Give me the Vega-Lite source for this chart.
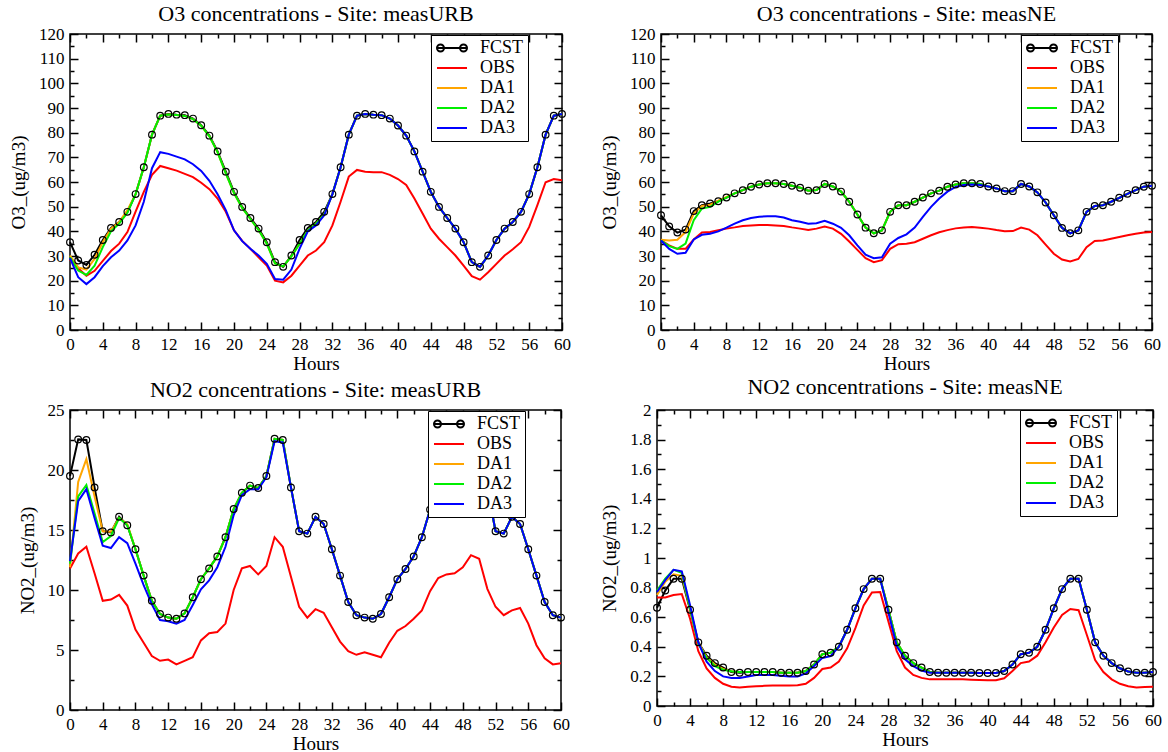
{
  "$schema": "https://vega.github.io/schema/vega-lite/v6.json",
  "background": "white",
  "padding": {"left": 8, "top": 2, "right": 0, "bottom": 0},
  "config": {
    "font": "Liberation Serif",
    "view": {"stroke": "black", "strokeWidth": 1.5},
    "style": {"guide-label": {"font": "Liberation Serif", "fontSize": 17, "fill": "black"}, "guide-title": {"font": "Liberation Serif", "fontSize": 19, "fontWeight": "normal", "fill": "black"}},
    "axis": {"domain": false, "grid": false, "labelFont": "Liberation Serif", "labelFontSize": 17, "labelColor": "black", "tickColor": "black", "tickWidth": 1.5, "titleFont": "Liberation Serif", "titleFontSize": 19, "titleFontWeight": "normal", "titleColor": "black", "labelPadding": 14, "labelOverlap": false, "labelFlush": false},
    "title": {"font": "Liberation Serif", "fontSize": 22, "fontWeight": "normal", "color": "black", "anchor": "middle", "offset": -1},
    "legend": {"title": null, "strokeColor": "black", "fillColor": "white", "padding": 4, "rowPadding": 2, "labelFont": "Liberation Serif", "labelFontSize": 18, "labelColor": "black", "symbolSize": 196, "symbolStrokeWidth": 2, "labelOffset": 27, "cornerRadius": 0, "orient": "none"}
  },
  "datasets": {
    "o3urb": [
      {"h":0,"FCST":35.6,"OBS":28.5,"DA1":30.2,"DA2":29.5,"DA3":29.1},
      {"h":1,"FCST":28.2,"OBS":25,"DA1":25.4,"DA2":24.1,"DA3":21.4},
      {"h":2,"FCST":26.4,"OBS":22,"DA1":24.5,"DA2":22.3,"DA3":18.6},
      {"h":3,"FCST":30.5,"OBS":24,"DA1":28.8,"DA2":26.1,"DA3":21.4},
      {"h":4,"FCST":36.5,"OBS":28,"DA1":35.6,"DA2":33.6,"DA3":25.9},
      {"h":5,"FCST":41.4,"OBS":32,"DA1":41.1,"DA2":40,"DA3":29.5},
      {"h":6,"FCST":43.8,"OBS":35,"DA1":43.8,"DA2":43.1,"DA3":32.2},
      {"h":7,"FCST":47.9,"OBS":39.7,"DA1":48.6,"DA2":47.5,"DA3":36.3},
      {"h":8,"FCST":55.1,"OBS":48,"DA1":55.1,"DA2":55.1,"DA3":42.4},
      {"h":9,"FCST":66,"OBS":56,"DA1":66,"DA2":66,"DA3":52},
      {"h":10,"FCST":79.2,"OBS":62.9,"DA1":79.2,"DA2":79.2,"DA3":65.6},
      {"h":11,"FCST":86.9,"OBS":66.5,"DA1":86.9,"DA2":86.9,"DA3":72.1},
      {"h":12,"FCST":87.6,"OBS":65.6,"DA1":87.4,"DA2":87.4,"DA3":71.4},
      {"h":13,"FCST":87.3,"OBS":64.6,"DA1":87.2,"DA2":87.2,"DA3":70.3},
      {"h":14,"FCST":87.1,"OBS":63.3,"DA1":86.8,"DA2":86.8,"DA3":69.2},
      {"h":15,"FCST":85.7,"OBS":62,"DA1":85.5,"DA2":85.5,"DA3":67.2},
      {"h":16,"FCST":83,"OBS":59.7,"DA1":82.8,"DA2":82.8,"DA3":64.5},
      {"h":17,"FCST":78.8,"OBS":57.1,"DA1":78.5,"DA2":78.5,"DA3":60.5},
      {"h":18,"FCST":72.4,"OBS":53.3,"DA1":72,"DA2":72,"DA3":55},
      {"h":19,"FCST":64.2,"OBS":47.9,"DA1":63.5,"DA2":63.5,"DA3":48.6},
      {"h":20,"FCST":56,"OBS":40.4,"DA1":55.5,"DA2":55.5,"DA3":40.4},
      {"h":21,"FCST":49.9,"OBS":36.1,"DA1":49.5,"DA2":49.5,"DA3":36},
      {"h":22,"FCST":45.4,"OBS":32.9,"DA1":45,"DA2":45,"DA3":32.9},
      {"h":23,"FCST":41.1,"OBS":29.5,"DA1":40.5,"DA2":40.5,"DA3":30.2},
      {"h":24,"FCST":35.6,"OBS":26.1,"DA1":35,"DA2":35,"DA3":26.8},
      {"h":25,"FCST":27.5,"OBS":20,"DA1":27,"DA2":27,"DA3":20.7},
      {"h":26,"FCST":25.6,"OBS":19.3,"DA1":25.8,"DA2":25.8,"DA3":20.4},
      {"h":27,"FCST":30.2,"OBS":22,"DA1":29.8,"DA2":29.8,"DA3":24.5},
      {"h":28,"FCST":36.5,"OBS":26.1,"DA1":35,"DA2":35,"DA3":33},
      {"h":29,"FCST":41.4,"OBS":30.2,"DA1":40.4,"DA2":40.4,"DA3":40},
      {"h":30,"FCST":43.8,"OBS":32.2,"DA1":43.1,"DA2":43.1,"DA3":42.4},
      {"h":31,"FCST":47.9,"OBS":35.6,"DA1":46.8,"DA2":46.8,"DA3":46.5},
      {"h":32,"FCST":55.1,"OBS":42.4,"DA1":55.1,"DA2":55.1,"DA3":55.1},
      {"h":33,"FCST":66,"OBS":52,"DA1":66,"DA2":66,"DA3":66},
      {"h":34,"FCST":79.2,"OBS":62.2,"DA1":79.2,"DA2":79.2,"DA3":79.2},
      {"h":35,"FCST":86.9,"OBS":64.9,"DA1":86.9,"DA2":86.9,"DA3":86.9},
      {"h":36,"FCST":87.6,"OBS":64.2,"DA1":87.6,"DA2":87.6,"DA3":87.6},
      {"h":37,"FCST":87.3,"OBS":64,"DA1":87.3,"DA2":87.3,"DA3":87.3},
      {"h":38,"FCST":87.1,"OBS":64,"DA1":87.1,"DA2":87.1,"DA3":87.1},
      {"h":39,"FCST":85.7,"OBS":62.9,"DA1":85.7,"DA2":85.7,"DA3":85.7},
      {"h":40,"FCST":82.9,"OBS":61.2,"DA1":82.9,"DA2":82.9,"DA3":82.9},
      {"h":41,"FCST":78.8,"OBS":58.8,"DA1":78.8,"DA2":78.8,"DA3":78.8},
      {"h":42,"FCST":72.4,"OBS":53.3,"DA1":72.4,"DA2":72.4,"DA3":72.4},
      {"h":43,"FCST":64.2,"OBS":47.2,"DA1":64.2,"DA2":64.2,"DA3":64.2},
      {"h":44,"FCST":56,"OBS":41.1,"DA1":56,"DA2":56,"DA3":56},
      {"h":45,"FCST":49.9,"OBS":37,"DA1":49.9,"DA2":49.9,"DA3":49.9},
      {"h":46,"FCST":45.4,"OBS":33.6,"DA1":45.4,"DA2":45.4,"DA3":45.4},
      {"h":47,"FCST":41.1,"OBS":30.2,"DA1":41.1,"DA2":41.1,"DA3":41.1},
      {"h":48,"FCST":35.6,"OBS":26.1,"DA1":35.6,"DA2":35.6,"DA3":35.6},
      {"h":49,"FCST":27.5,"OBS":21.8,"DA1":27.5,"DA2":27.5,"DA3":27.5},
      {"h":50,"FCST":25.6,"OBS":20.4,"DA1":25.6,"DA2":25.6,"DA3":25.6},
      {"h":51,"FCST":30.2,"OBS":23.4,"DA1":30.2,"DA2":30.2,"DA3":30.2},
      {"h":52,"FCST":36.5,"OBS":26.8,"DA1":36.5,"DA2":36.5,"DA3":36.5},
      {"h":53,"FCST":41.1,"OBS":30.2,"DA1":41.1,"DA2":41.1,"DA3":41.1},
      {"h":54,"FCST":43.8,"OBS":32.7,"DA1":43.8,"DA2":43.8,"DA3":43.8},
      {"h":55,"FCST":47.9,"OBS":35.6,"DA1":47.9,"DA2":47.9,"DA3":47.9},
      {"h":56,"FCST":55.1,"OBS":41.8,"DA1":55.1,"DA2":55.1,"DA3":55.1},
      {"h":57,"FCST":66,"OBS":50.6,"DA1":66,"DA2":66,"DA3":66},
      {"h":58,"FCST":79.2,"OBS":59.9,"DA1":79.2,"DA2":79.2,"DA3":79.2},
      {"h":59,"FCST":86.9,"OBS":61.2,"DA1":86.9,"DA2":86.9,"DA3":86.9},
      {"h":60,"FCST":87.6,"OBS":60.7,"DA1":87.6,"DA2":87.6,"DA3":87.6}
    ],
    "o3ne": [
      {"h":0,"FCST":46.5,"OBS":36.3,"DA1":36.6,"DA2":36.3,"DA3":36.3},
      {"h":1,"FCST":42,"OBS":34.3,"DA1":36.3,"DA2":34,"DA3":32.9},
      {"h":2,"FCST":39.5,"OBS":32.9,"DA1":36.6,"DA2":32.9,"DA3":30.9},
      {"h":3,"FCST":40.7,"OBS":32.9,"DA1":39.7,"DA2":35,"DA3":31.3},
      {"h":4,"FCST":48.2,"OBS":36.7,"DA1":47.2,"DA2":44.5,"DA3":36.7},
      {"h":5,"FCST":50.6,"OBS":39.5,"DA1":50.3,"DA2":49.3,"DA3":38.6},
      {"h":6,"FCST":51.3,"OBS":39.7,"DA1":50.8,"DA2":49.9,"DA3":39},
      {"h":7,"FCST":52.2,"OBS":40.4,"DA1":52.4,"DA2":52,"DA3":40},
      {"h":8,"FCST":53.7,"OBS":41.1,"DA1":54,"DA2":53.7,"DA3":41.5},
      {"h":9,"FCST":55.4,"OBS":41.6,"DA1":55.4,"DA2":55.4,"DA3":43.1},
      {"h":10,"FCST":56.7,"OBS":42.2,"DA1":56.7,"DA2":56.7,"DA3":44.5},
      {"h":11,"FCST":58.1,"OBS":42.4,"DA1":58.1,"DA2":58.1,"DA3":45.4},
      {"h":12,"FCST":59,"OBS":42.6,"DA1":59,"DA2":59,"DA3":45.9},
      {"h":13,"FCST":59.5,"OBS":42.6,"DA1":59.5,"DA2":59.5,"DA3":46.1},
      {"h":14,"FCST":59.5,"OBS":42.4,"DA1":59.5,"DA2":59.5,"DA3":46.1},
      {"h":15,"FCST":59.2,"OBS":42.2,"DA1":59.2,"DA2":59.2,"DA3":45.6},
      {"h":16,"FCST":58.5,"OBS":41.6,"DA1":58.5,"DA2":58.5,"DA3":44.5},
      {"h":17,"FCST":57.7,"OBS":41.1,"DA1":57.7,"DA2":57.7,"DA3":43.9},
      {"h":18,"FCST":56.5,"OBS":40.5,"DA1":56.5,"DA2":56.5,"DA3":43.1},
      {"h":19,"FCST":56.7,"OBS":41.1,"DA1":56.7,"DA2":56.7,"DA3":43.3},
      {"h":20,"FCST":59.2,"OBS":41.9,"DA1":59.2,"DA2":59.2,"DA3":44.3},
      {"h":21,"FCST":58.2,"OBS":41.1,"DA1":58.2,"DA2":58.2,"DA3":43.1},
      {"h":22,"FCST":56.1,"OBS":39,"DA1":56.1,"DA2":56.1,"DA3":41.4},
      {"h":23,"FCST":52,"OBS":35.9,"DA1":52,"DA2":52,"DA3":38.4},
      {"h":24,"FCST":46.8,"OBS":32.5,"DA1":46.8,"DA2":46.8,"DA3":34.3},
      {"h":25,"FCST":41.5,"OBS":29.1,"DA1":41.5,"DA2":41.5,"DA3":30.5},
      {"h":26,"FCST":39.2,"OBS":27.5,"DA1":39.2,"DA2":39.2,"DA3":29.1},
      {"h":27,"FCST":40.4,"OBS":28.3,"DA1":40.4,"DA2":40.4,"DA3":29.5},
      {"h":28,"FCST":47.9,"OBS":32.9,"DA1":47.9,"DA2":47.9,"DA3":35},
      {"h":29,"FCST":50.6,"OBS":34.8,"DA1":50.6,"DA2":50.6,"DA3":37.3},
      {"h":30,"FCST":50.6,"OBS":35,"DA1":50.6,"DA2":50.6,"DA3":38.8},
      {"h":31,"FCST":52,"OBS":35.6,"DA1":52,"DA2":52,"DA3":41.5},
      {"h":32,"FCST":53.7,"OBS":37,"DA1":53.7,"DA2":53.7,"DA3":45.9},
      {"h":33,"FCST":55.4,"OBS":38.4,"DA1":55.4,"DA2":55.4,"DA3":49.9},
      {"h":34,"FCST":56.5,"OBS":39.6,"DA1":56.5,"DA2":56.5,"DA3":53.3},
      {"h":35,"FCST":58.1,"OBS":40.5,"DA1":58.1,"DA2":58.1,"DA3":56.1},
      {"h":36,"FCST":59,"OBS":41.2,"DA1":59,"DA2":59,"DA3":58},
      {"h":37,"FCST":59.5,"OBS":41.6,"DA1":59.5,"DA2":59.5,"DA3":58.8},
      {"h":38,"FCST":59.5,"OBS":41.8,"DA1":59.5,"DA2":59.5,"DA3":59},
      {"h":39,"FCST":59.2,"OBS":41.5,"DA1":59.2,"DA2":59.2,"DA3":58.8},
      {"h":40,"FCST":58.2,"OBS":41.1,"DA1":58.2,"DA2":58.2,"DA3":58.2},
      {"h":41,"FCST":57.4,"OBS":40.5,"DA1":57.4,"DA2":57.4,"DA3":57.4},
      {"h":42,"FCST":56.3,"OBS":40,"DA1":56.3,"DA2":56.3,"DA3":56.3},
      {"h":43,"FCST":56.3,"OBS":40.1,"DA1":56.3,"DA2":56.3,"DA3":56.3},
      {"h":44,"FCST":59.2,"OBS":41.5,"DA1":59.2,"DA2":59.2,"DA3":59.2},
      {"h":45,"FCST":58.2,"OBS":40.7,"DA1":58.2,"DA2":58.2,"DA3":58.2},
      {"h":46,"FCST":55.8,"OBS":38.4,"DA1":55.8,"DA2":55.8,"DA3":55.8},
      {"h":47,"FCST":51.7,"OBS":34.6,"DA1":51.7,"DA2":51.7,"DA3":51.7},
      {"h":48,"FCST":46.5,"OBS":30.9,"DA1":46.5,"DA2":46.5,"DA3":46.5},
      {"h":49,"FCST":41.4,"OBS":28.6,"DA1":41.4,"DA2":41.4,"DA3":41.4},
      {"h":50,"FCST":39.2,"OBS":27.8,"DA1":39.2,"DA2":39.2,"DA3":39.2},
      {"h":51,"FCST":40.4,"OBS":28.8,"DA1":40.4,"DA2":40.4,"DA3":40.4},
      {"h":52,"FCST":47.9,"OBS":33.6,"DA1":47.9,"DA2":47.9,"DA3":47.9},
      {"h":53,"FCST":50.3,"OBS":36.1,"DA1":50.3,"DA2":50.3,"DA3":50.3},
      {"h":54,"FCST":50.6,"OBS":36.3,"DA1":50.6,"DA2":50.6,"DA3":50.6},
      {"h":55,"FCST":52,"OBS":37,"DA1":52,"DA2":52,"DA3":52},
      {"h":56,"FCST":53.6,"OBS":37.7,"DA1":53.6,"DA2":53.6,"DA3":53.6},
      {"h":57,"FCST":55.2,"OBS":38.4,"DA1":55.2,"DA2":55.2,"DA3":55.2},
      {"h":58,"FCST":56.7,"OBS":39,"DA1":56.7,"DA2":56.7,"DA3":56.7},
      {"h":59,"FCST":58.1,"OBS":39.5,"DA1":58.1,"DA2":58.1,"DA3":58.1},
      {"h":60,"FCST":58.5,"OBS":39.7,"DA1":58.5,"DA2":58.5,"DA3":58.5}
    ],
    "no2urb": [
      {"h":0,"FCST":19.5,"OBS":11.8,"DA1":11.9,"DA2":12.2,"DA3":12.4},
      {"h":1,"FCST":22.55,"OBS":13.05,"DA1":19,"DA2":17.8,"DA3":17.4},
      {"h":2,"FCST":22.5,"OBS":13.6,"DA1":20.9,"DA2":18.75,"DA3":18.4},
      {"h":3,"FCST":18.55,"OBS":11.4,"DA1":17.8,"DA2":16.4,"DA3":16},
      {"h":4,"FCST":14.9,"OBS":9.1,"DA1":14.9,"DA2":14,"DA3":13.7},
      {"h":5,"FCST":14.8,"OBS":9.2,"DA1":14.85,"DA2":14.5,"DA3":13.5},
      {"h":6,"FCST":16.1,"OBS":9.6,"DA1":16,"DA2":16,"DA3":14.4},
      {"h":7,"FCST":15.4,"OBS":8.7,"DA1":15.5,"DA2":15.4,"DA3":13.9},
      {"h":8,"FCST":13.4,"OBS":6.7,"DA1":13.4,"DA2":13.4,"DA3":12.2},
      {"h":9,"FCST":11.2,"OBS":5.6,"DA1":11.2,"DA2":11.2,"DA3":10.4},
      {"h":10,"FCST":9.1,"OBS":4.5,"DA1":9.1,"DA2":9.1,"DA3":8.8},
      {"h":11,"FCST":8,"OBS":4.1,"DA1":8,"DA2":8,"DA3":7.5},
      {"h":12,"FCST":7.7,"OBS":4.2,"DA1":7.7,"DA2":7.7,"DA3":7.4},
      {"h":13,"FCST":7.6,"OBS":3.8,"DA1":7.6,"DA2":7.6,"DA3":7.2},
      {"h":14,"FCST":8.05,"OBS":4.1,"DA1":8.05,"DA2":8.05,"DA3":7.5},
      {"h":15,"FCST":9.4,"OBS":4.4,"DA1":9.4,"DA2":9.4,"DA3":8.75},
      {"h":16,"FCST":10.9,"OBS":5.8,"DA1":10.9,"DA2":10.9,"DA3":10.05},
      {"h":17,"FCST":11.8,"OBS":6.4,"DA1":11.8,"DA2":11.8,"DA3":10.8},
      {"h":18,"FCST":12.8,"OBS":6.5,"DA1":12.8,"DA2":12.8,"DA3":11.9},
      {"h":19,"FCST":14.4,"OBS":7.2,"DA1":14.4,"DA2":14.4,"DA3":13.6},
      {"h":20,"FCST":16.75,"OBS":10,"DA1":16.75,"DA2":16.75,"DA3":16.25},
      {"h":21,"FCST":18.1,"OBS":11.8,"DA1":18.1,"DA2":18.1,"DA3":17.9},
      {"h":22,"FCST":18.7,"OBS":12,"DA1":18.7,"DA2":18.7,"DA3":18.4},
      {"h":23,"FCST":18.5,"OBS":11.3,"DA1":18.5,"DA2":18.5,"DA3":18.4},
      {"h":24,"FCST":19.5,"OBS":12,"DA1":19.5,"DA2":19.5,"DA3":19.4},
      {"h":25,"FCST":22.6,"OBS":14.4,"DA1":22.6,"DA2":22.6,"DA3":22.4},
      {"h":26,"FCST":22.5,"OBS":13.6,"DA1":22.5,"DA2":22.5,"DA3":22.3},
      {"h":27,"FCST":18.55,"OBS":11.1,"DA1":18.55,"DA2":18.55,"DA3":18.55},
      {"h":28,"FCST":14.9,"OBS":8.6,"DA1":14.9,"DA2":14.9,"DA3":14.9},
      {"h":29,"FCST":14.7,"OBS":7.7,"DA1":14.7,"DA2":14.7,"DA3":14.7},
      {"h":30,"FCST":16.1,"OBS":8.4,"DA1":16.1,"DA2":16.1,"DA3":16.1},
      {"h":31,"FCST":15.5,"OBS":8.1,"DA1":15.5,"DA2":15.5,"DA3":15.5},
      {"h":32,"FCST":13.4,"OBS":6.9,"DA1":13.4,"DA2":13.4,"DA3":13.4},
      {"h":33,"FCST":11.2,"OBS":5.7,"DA1":11.2,"DA2":11.2,"DA3":11.2},
      {"h":34,"FCST":9,"OBS":4.9,"DA1":9,"DA2":9,"DA3":9},
      {"h":35,"FCST":7.9,"OBS":4.6,"DA1":7.9,"DA2":7.9,"DA3":7.9},
      {"h":36,"FCST":7.7,"OBS":4.8,"DA1":7.7,"DA2":7.7,"DA3":7.7},
      {"h":37,"FCST":7.6,"OBS":4.6,"DA1":7.6,"DA2":7.6,"DA3":7.6},
      {"h":38,"FCST":8,"OBS":4.4,"DA1":8,"DA2":8,"DA3":8},
      {"h":39,"FCST":9.4,"OBS":5.6,"DA1":9.4,"DA2":9.4,"DA3":9.4},
      {"h":40,"FCST":10.9,"OBS":6.6,"DA1":10.9,"DA2":10.9,"DA3":10.9},
      {"h":41,"FCST":11.75,"OBS":7,"DA1":11.75,"DA2":11.75,"DA3":11.75},
      {"h":42,"FCST":12.8,"OBS":7.6,"DA1":12.8,"DA2":12.8,"DA3":12.8},
      {"h":43,"FCST":14.4,"OBS":8.3,"DA1":14.4,"DA2":14.4,"DA3":14.4},
      {"h":44,"FCST":16.7,"OBS":9.9,"DA1":16.7,"DA2":16.7,"DA3":16.7},
      {"h":45,"FCST":18.1,"OBS":11,"DA1":18.1,"DA2":18.1,"DA3":18.1},
      {"h":46,"FCST":18.7,"OBS":11.3,"DA1":18.7,"DA2":18.7,"DA3":18.7},
      {"h":47,"FCST":18.5,"OBS":11.4,"DA1":18.5,"DA2":18.5,"DA3":18.5},
      {"h":48,"FCST":19.5,"OBS":11.9,"DA1":19.5,"DA2":19.5,"DA3":19.5},
      {"h":49,"FCST":22.6,"OBS":12.9,"DA1":22.6,"DA2":22.6,"DA3":22.6},
      {"h":50,"FCST":22.5,"OBS":12.6,"DA1":22.5,"DA2":22.5,"DA3":22.5},
      {"h":51,"FCST":18.55,"OBS":10.1,"DA1":18.55,"DA2":18.55,"DA3":18.55},
      {"h":52,"FCST":14.9,"OBS":8.6,"DA1":14.9,"DA2":14.9,"DA3":14.9},
      {"h":53,"FCST":14.7,"OBS":7.9,"DA1":14.7,"DA2":14.7,"DA3":14.7},
      {"h":54,"FCST":16.1,"OBS":8.3,"DA1":16.1,"DA2":16.1,"DA3":16.1},
      {"h":55,"FCST":15.5,"OBS":8.5,"DA1":15.5,"DA2":15.5,"DA3":15.5},
      {"h":56,"FCST":13.4,"OBS":7.2,"DA1":13.4,"DA2":13.4,"DA3":13.4},
      {"h":57,"FCST":11.2,"OBS":5.4,"DA1":11.2,"DA2":11.2,"DA3":11.2},
      {"h":58,"FCST":9,"OBS":4.3,"DA1":9,"DA2":9,"DA3":9},
      {"h":59,"FCST":7.9,"OBS":3.8,"DA1":7.9,"DA2":7.9,"DA3":7.9},
      {"h":60,"FCST":7.7,"OBS":3.9,"DA1":7.7,"DA2":7.7,"DA3":7.7}
    ],
    "no2ne": [
      {"h":0,"FCST":0.664,"OBS":0.733,"DA1":0.75,"DA2":0.78,"DA3":0.77},
      {"h":1,"FCST":0.78,"OBS":0.733,"DA1":0.84,"DA2":0.86,"DA3":0.85},
      {"h":2,"FCST":0.86,"OBS":0.75,"DA1":0.89,"DA2":0.92,"DA3":0.92},
      {"h":3,"FCST":0.86,"OBS":0.756,"DA1":0.88,"DA2":0.9,"DA3":0.91},
      {"h":4,"FCST":0.65,"OBS":0.59,"DA1":0.66,"DA2":0.66,"DA3":0.68},
      {"h":5,"FCST":0.43,"OBS":0.37,"DA1":0.43,"DA2":0.42,"DA3":0.43},
      {"h":6,"FCST":0.34,"OBS":0.254,"DA1":0.33,"DA2":0.325,"DA3":0.3},
      {"h":7,"FCST":0.29,"OBS":0.19,"DA1":0.28,"DA2":0.27,"DA3":0.236},
      {"h":8,"FCST":0.26,"OBS":0.15,"DA1":0.25,"DA2":0.245,"DA3":0.2},
      {"h":9,"FCST":0.23,"OBS":0.13,"DA1":0.235,"DA2":0.235,"DA3":0.19},
      {"h":10,"FCST":0.225,"OBS":0.125,"DA1":0.23,"DA2":0.23,"DA3":0.19},
      {"h":11,"FCST":0.23,"OBS":0.13,"DA1":0.23,"DA2":0.23,"DA3":0.2},
      {"h":12,"FCST":0.23,"OBS":0.134,"DA1":0.23,"DA2":0.23,"DA3":0.21},
      {"h":13,"FCST":0.23,"OBS":0.136,"DA1":0.23,"DA2":0.23,"DA3":0.21},
      {"h":14,"FCST":0.23,"OBS":0.138,"DA1":0.23,"DA2":0.23,"DA3":0.21},
      {"h":15,"FCST":0.225,"OBS":0.138,"DA1":0.225,"DA2":0.225,"DA3":0.205},
      {"h":16,"FCST":0.225,"OBS":0.138,"DA1":0.225,"DA2":0.225,"DA3":0.2},
      {"h":17,"FCST":0.225,"OBS":0.14,"DA1":0.225,"DA2":0.225,"DA3":0.2},
      {"h":18,"FCST":0.236,"OBS":0.15,"DA1":0.236,"DA2":0.236,"DA3":0.22},
      {"h":19,"FCST":0.28,"OBS":0.19,"DA1":0.28,"DA2":0.28,"DA3":0.27},
      {"h":20,"FCST":0.35,"OBS":0.25,"DA1":0.35,"DA2":0.35,"DA3":0.325},
      {"h":21,"FCST":0.36,"OBS":0.26,"DA1":0.36,"DA2":0.36,"DA3":0.337},
      {"h":22,"FCST":0.4,"OBS":0.3,"DA1":0.4,"DA2":0.4,"DA3":0.4},
      {"h":23,"FCST":0.515,"OBS":0.39,"DA1":0.515,"DA2":0.515,"DA3":0.515},
      {"h":24,"FCST":0.66,"OBS":0.526,"DA1":0.66,"DA2":0.66,"DA3":0.66},
      {"h":25,"FCST":0.79,"OBS":0.68,"DA1":0.79,"DA2":0.79,"DA3":0.79},
      {"h":26,"FCST":0.86,"OBS":0.767,"DA1":0.86,"DA2":0.86,"DA3":0.86},
      {"h":27,"FCST":0.86,"OBS":0.77,"DA1":0.86,"DA2":0.86,"DA3":0.86},
      {"h":28,"FCST":0.65,"OBS":0.57,"DA1":0.65,"DA2":0.65,"DA3":0.63},
      {"h":29,"FCST":0.43,"OBS":0.37,"DA1":0.43,"DA2":0.43,"DA3":0.405},
      {"h":30,"FCST":0.34,"OBS":0.26,"DA1":0.34,"DA2":0.34,"DA3":0.315},
      {"h":31,"FCST":0.29,"OBS":0.21,"DA1":0.29,"DA2":0.29,"DA3":0.27},
      {"h":32,"FCST":0.26,"OBS":0.19,"DA1":0.26,"DA2":0.26,"DA3":0.24},
      {"h":33,"FCST":0.23,"OBS":0.18,"DA1":0.23,"DA2":0.23,"DA3":0.225},
      {"h":34,"FCST":0.225,"OBS":0.18,"DA1":0.225,"DA2":0.225,"DA3":0.225},
      {"h":35,"FCST":0.225,"OBS":0.18,"DA1":0.225,"DA2":0.225,"DA3":0.225},
      {"h":36,"FCST":0.225,"OBS":0.18,"DA1":0.225,"DA2":0.225,"DA3":0.225},
      {"h":37,"FCST":0.225,"OBS":0.18,"DA1":0.225,"DA2":0.225,"DA3":0.225},
      {"h":38,"FCST":0.225,"OBS":0.178,"DA1":0.225,"DA2":0.225,"DA3":0.225},
      {"h":39,"FCST":0.223,"OBS":0.176,"DA1":0.223,"DA2":0.223,"DA3":0.223},
      {"h":40,"FCST":0.223,"OBS":0.174,"DA1":0.223,"DA2":0.223,"DA3":0.223},
      {"h":41,"FCST":0.223,"OBS":0.174,"DA1":0.223,"DA2":0.223,"DA3":0.223},
      {"h":42,"FCST":0.236,"OBS":0.187,"DA1":0.236,"DA2":0.236,"DA3":0.236},
      {"h":43,"FCST":0.28,"OBS":0.236,"DA1":0.28,"DA2":0.28,"DA3":0.28},
      {"h":44,"FCST":0.35,"OBS":0.29,"DA1":0.35,"DA2":0.35,"DA3":0.35},
      {"h":45,"FCST":0.36,"OBS":0.3,"DA1":0.36,"DA2":0.36,"DA3":0.36},
      {"h":46,"FCST":0.4,"OBS":0.34,"DA1":0.4,"DA2":0.4,"DA3":0.4},
      {"h":47,"FCST":0.515,"OBS":0.43,"DA1":0.515,"DA2":0.515,"DA3":0.515},
      {"h":48,"FCST":0.66,"OBS":0.53,"DA1":0.66,"DA2":0.66,"DA3":0.66},
      {"h":49,"FCST":0.79,"OBS":0.615,"DA1":0.79,"DA2":0.79,"DA3":0.79},
      {"h":50,"FCST":0.86,"OBS":0.655,"DA1":0.86,"DA2":0.86,"DA3":0.86},
      {"h":51,"FCST":0.86,"OBS":0.647,"DA1":0.86,"DA2":0.86,"DA3":0.86},
      {"h":52,"FCST":0.65,"OBS":0.48,"DA1":0.65,"DA2":0.65,"DA3":0.65},
      {"h":53,"FCST":0.43,"OBS":0.31,"DA1":0.43,"DA2":0.43,"DA3":0.43},
      {"h":54,"FCST":0.34,"OBS":0.23,"DA1":0.34,"DA2":0.34,"DA3":0.34},
      {"h":55,"FCST":0.29,"OBS":0.18,"DA1":0.29,"DA2":0.29,"DA3":0.29},
      {"h":56,"FCST":0.255,"OBS":0.15,"DA1":0.255,"DA2":0.255,"DA3":0.255},
      {"h":57,"FCST":0.233,"OBS":0.134,"DA1":0.233,"DA2":0.233,"DA3":0.233},
      {"h":58,"FCST":0.225,"OBS":0.125,"DA1":0.225,"DA2":0.225,"DA3":0.225},
      {"h":59,"FCST":0.225,"OBS":0.128,"DA1":0.225,"DA2":0.225,"DA3":0.225},
      {"h":60,"FCST":0.23,"OBS":0.13,"DA1":0.23,"DA2":0.23,"DA3":0.23}
    ]
  },
  "resolve": {"scale": {"color": "independent"}, "legend": {"color": "independent"}},
  "spacing": 1,
  "vconcat": [
    {
      "spacing": 27,
      "resolve": {"scale": {"color": "independent"}, "legend": {"color": "independent"}},
      "hconcat": [
        {
          "width": 492, "height": 296,
          "title": {"text": "O3 concentrations - Site: measURB"},
          "data": {"name": "o3urb"},
          "transform": [{"fold": ["FCST","OBS","DA1","DA2","DA3"], "as": ["series","value"]}],
          "layer": [
            {
              "mark": {"type": "line", "strokeWidth": 2},
              "encoding": {
                "x": {"field": "h", "type": "quantitative", "scale": {"domain": [0,60], "nice": false}, "axis": {"orient": "bottom", "title": "Hours", "titlePadding": -2, "labelFont": "Liberation Serif", "values": [0,2,4,6,8,10,12,14,16,18,20,22,24,26,28,30,32,34,36,38,40,42,44,46,48,50,52,54,56,58,60], "labelExpr": "datum.value % 4 === 0 ? datum.label : ''", "tickSize": {"condition": {"test": "datum.value % 4 === 0", "value": -8}, "value": -4}}},
                "y": {"field": "value", "type": "quantitative", "scale": {"domain": [0,120], "nice": false}, "axis": {"orient": "left", "title": "O3_(ug/m3)", "titlePadding": 10, "labelFont": "Liberation Serif", "values": [0,5,10,15,20,25,30,35,40,45,50,55,60,65,70,75,80,85,90,95,100,105,110,115,120], "labelExpr": "datum.value % 10 === 0 ? datum.label : ''", "tickSize": {"condition": {"test": "datum.value % 10 === 0", "value": -8}, "value": -4}}},
                "color": {"field": "series", "type": "nominal", "scale": {"domain": ["FCST","OBS","DA1","DA2","DA3"], "range": ["#000000","#ff0000","#ffa500","#00ee00","#0000ff"]},
                  "legend": {"legendX": 361, "legendY": 1, "encode": {"symbols": {"update": {"shape": [{"test": "datum.value === 'FCST'", "value": "M-1,0H3.286M0,0A0.5,0.5,0,1,1,-1,0A0.5,0.5,0,1,1,0,0M3.286,0A0.5,0.5,0,1,1,2.286,0A0.5,0.5,0,1,1,3.286,0"}, {"value": "M-1,0H3.286"}], "fill": {"value": "transparent"}}}}}}
              }
            },
            {
              "transform": [{"filter": "datum.series === 'FCST'"}],
              "mark": {"type": "point", "shape": "circle", "filled": false, "color": "black", "strokeWidth": 1.2, "size": 45, "opacity": 1},
              "encoding": {
                "x": {"field": "h", "type": "quantitative", "axis": {"orient": "top", "title": null, "labels": false, "values": [0,2,4,6,8,10,12,14,16,18,20,22,24,26,28,30,32,34,36,38,40,42,44,46,48,50,52,54,56,58,60], "tickSize": {"condition": {"test": "datum.value % 4 === 0", "value": -8}, "value": -4}}},
                "y": {"field": "value", "type": "quantitative", "axis": {"orient": "right", "title": null, "labels": false, "values": [0,5,10,15,20,25,30,35,40,45,50,55,60,65,70,75,80,85,90,95,100,105,110,115,120], "tickSize": {"condition": {"test": "datum.value % 10 === 0", "value": -8}, "value": -4}}}
              }
            }
          ],
          "resolve": {"axis": {"x": "independent", "y": "independent"}}
        },
        {
          "width": 491, "height": 296,
          "title": {"text": "O3 concentrations - Site: measNE"},
          "data": {"name": "o3ne"},
          "transform": [{"fold": ["FCST","OBS","DA1","DA2","DA3"], "as": ["series","value"]}],
          "layer": [
            {
              "mark": {"type": "line", "strokeWidth": 2},
              "encoding": {
                "x": {"field": "h", "type": "quantitative", "scale": {"domain": [0,60], "nice": false}, "axis": {"orient": "bottom", "title": "Hours", "titlePadding": -2, "labelFont": "Liberation Serif", "values": [0,2,4,6,8,10,12,14,16,18,20,22,24,26,28,30,32,34,36,38,40,42,44,46,48,50,52,54,56,58,60], "labelExpr": "datum.value % 4 === 0 ? datum.label : ''", "tickSize": {"condition": {"test": "datum.value % 4 === 0", "value": -8}, "value": -4}}},
                "y": {"field": "value", "type": "quantitative", "scale": {"domain": [0,120], "nice": false}, "axis": {"orient": "left", "title": "O3_(ug/m3)", "titlePadding": 10, "labelFont": "Liberation Serif", "values": [0,5,10,15,20,25,30,35,40,45,50,55,60,65,70,75,80,85,90,95,100,105,110,115,120], "labelExpr": "datum.value % 10 === 0 ? datum.label : ''", "tickSize": {"condition": {"test": "datum.value % 10 === 0", "value": -8}, "value": -4}}},
                "color": {"field": "series", "type": "nominal", "scale": {"domain": ["FCST","OBS","DA1","DA2","DA3"], "range": ["#000000","#ff0000","#ffa500","#00ee00","#0000ff"]},
                  "legend": {"legendX": 360, "legendY": 1, "encode": {"symbols": {"update": {"shape": [{"test": "datum.value === 'FCST'", "value": "M-1,0H3.286M0,0A0.5,0.5,0,1,1,-1,0A0.5,0.5,0,1,1,0,0M3.286,0A0.5,0.5,0,1,1,2.286,0A0.5,0.5,0,1,1,3.286,0"}, {"value": "M-1,0H3.286"}], "fill": {"value": "transparent"}}}}}}
              }
            },
            {
              "transform": [{"filter": "datum.series === 'FCST'"}],
              "mark": {"type": "point", "shape": "circle", "filled": false, "color": "black", "strokeWidth": 1.2, "size": 45, "opacity": 1},
              "encoding": {
                "x": {"field": "h", "type": "quantitative", "axis": {"orient": "top", "title": null, "labels": false, "values": [0,2,4,6,8,10,12,14,16,18,20,22,24,26,28,30,32,34,36,38,40,42,44,46,48,50,52,54,56,58,60], "tickSize": {"condition": {"test": "datum.value % 4 === 0", "value": -8}, "value": -4}}},
                "y": {"field": "value", "type": "quantitative", "axis": {"orient": "right", "title": null, "labels": false, "values": [0,5,10,15,20,25,30,35,40,45,50,55,60,65,70,75,80,85,90,95,100,105,110,115,120], "tickSize": {"condition": {"test": "datum.value % 10 === 0", "value": -8}, "value": -4}}}
              }
            }
          ],
          "resolve": {"axis": {"x": "independent", "y": "independent"}}
        }
      ]
    },
    {
      "spacing": 29,
      "resolve": {"scale": {"color": "independent"}, "legend": {"color": "independent"}},
      "hconcat": [
        {
          "width": 491, "height": 300,
          "title": {"text": "NO2 concentrations - Site: measURB"},
          "data": {"name": "no2urb"},
          "transform": [{"fold": ["FCST","OBS","DA1","DA2","DA3"], "as": ["series","value"]}],
          "layer": [
            {
              "mark": {"type": "line", "strokeWidth": 2},
              "encoding": {
                "x": {"field": "h", "type": "quantitative", "scale": {"domain": [0,60], "nice": false}, "axis": {"orient": "bottom", "title": "Hours", "titlePadding": -2, "labelFont": "Liberation Serif", "values": [0,2,4,6,8,10,12,14,16,18,20,22,24,26,28,30,32,34,36,38,40,42,44,46,48,50,52,54,56,58,60], "labelExpr": "datum.value % 4 === 0 ? datum.label : ''", "tickSize": {"condition": {"test": "datum.value % 4 === 0", "value": -8}, "value": -4}}},
                "y": {"field": "value", "type": "quantitative", "scale": {"domain": [0,25], "nice": false}, "axis": {"orient": "left", "title": "NO2_(ug/m3)", "titlePadding": 10, "labelFont": "Liberation Serif", "values": [0,2.5,5,7.5,10,12.5,15,17.5,20,22.5,25], "labelExpr": "datum.value % 5 === 0 ? format(datum.value, 'd') : ''", "tickSize": {"condition": {"test": "datum.value % 5 === 0", "value": -8}, "value": -4}}},
                "color": {"field": "series", "type": "nominal", "scale": {"domain": ["FCST","OBS","DA1","DA2","DA3"], "range": ["#000000","#ff0000","#ffa500","#00ee00","#0000ff"]},
                  "legend": {"legendX": 358, "legendY": 1, "encode": {"symbols": {"update": {"shape": [{"test": "datum.value === 'FCST'", "value": "M-1,0H3.286M0,0A0.5,0.5,0,1,1,-1,0A0.5,0.5,0,1,1,0,0M3.286,0A0.5,0.5,0,1,1,2.286,0A0.5,0.5,0,1,1,3.286,0"}, {"value": "M-1,0H3.286"}], "fill": {"value": "transparent"}}}}}}
              }
            },
            {
              "transform": [{"filter": "datum.series === 'FCST'"}],
              "mark": {"type": "point", "shape": "circle", "filled": false, "color": "black", "strokeWidth": 1.2, "size": 45, "opacity": 1},
              "encoding": {
                "x": {"field": "h", "type": "quantitative", "axis": {"orient": "top", "title": null, "labels": false, "values": [0,2,4,6,8,10,12,14,16,18,20,22,24,26,28,30,32,34,36,38,40,42,44,46,48,50,52,54,56,58,60], "tickSize": {"condition": {"test": "datum.value % 4 === 0", "value": -8}, "value": -4}}},
                "y": {"field": "value", "type": "quantitative", "axis": {"orient": "right", "title": null, "labels": false, "values": [0,2.5,5,7.5,10,12.5,15,17.5,20,22.5,25], "tickSize": {"condition": {"test": "datum.value % 5 === 0", "value": -8}, "value": -4}}}
              }
            }
          ],
          "resolve": {"axis": {"x": "independent", "y": "independent"}}
        },
        {
          "width": 496, "height": 296,
          "title": {"text": "NO2 concentrations - Site: measNE", "offset": 2},
          "data": {"name": "no2ne"},
          "transform": [{"fold": ["FCST","OBS","DA1","DA2","DA3"], "as": ["series","value"]}],
          "layer": [
            {
              "mark": {"type": "line", "strokeWidth": 2},
              "encoding": {
                "x": {"field": "h", "type": "quantitative", "scale": {"domain": [0,60], "nice": false}, "axis": {"orient": "bottom", "title": "Hours", "titlePadding": -2, "labelFont": "Liberation Serif", "values": [0,2,4,6,8,10,12,14,16,18,20,22,24,26,28,30,32,34,36,38,40,42,44,46,48,50,52,54,56,58,60], "labelExpr": "datum.value % 4 === 0 ? datum.label : ''", "tickSize": {"condition": {"test": "datum.value % 4 === 0", "value": -8}, "value": -4}}},
                "y": {"field": "value", "type": "quantitative", "scale": {"domain": [0,2], "nice": false}, "axis": {"orient": "left", "title": "NO2_(ug/m3)", "titlePadding": 10, "labelFont": "Liberation Serif", "values": [0,0.1,0.2,0.3,0.4,0.5,0.6,0.7,0.8,0.9,1,1.1,1.2,1.3,1.4,1.5,1.6,1.7,1.8,1.9,2], "labelExpr": "round(datum.value*10) % 2 === 0 ? format(datum.value, '~g') : ''", "tickSize": {"condition": {"test": "round(datum.value*10) % 2 === 0", "value": -8}, "value": -4}}},
                "color": {"field": "series", "type": "nominal", "scale": {"domain": ["FCST","OBS","DA1","DA2","DA3"], "range": ["#000000","#ff0000","#ffa500","#00ee00","#0000ff"]},
                  "legend": {"legendX": 363, "legendY": 0, "encode": {"symbols": {"update": {"shape": [{"test": "datum.value === 'FCST'", "value": "M-1,0H3.286M0,0A0.5,0.5,0,1,1,-1,0A0.5,0.5,0,1,1,0,0M3.286,0A0.5,0.5,0,1,1,2.286,0A0.5,0.5,0,1,1,3.286,0"}, {"value": "M-1,0H3.286"}], "fill": {"value": "transparent"}}}}}}
              }
            },
            {
              "transform": [{"filter": "datum.series === 'FCST'"}],
              "mark": {"type": "point", "shape": "circle", "filled": false, "color": "black", "strokeWidth": 1.2, "size": 45, "opacity": 1},
              "encoding": {
                "x": {"field": "h", "type": "quantitative", "axis": {"orient": "top", "title": null, "labels": false, "values": [0,2,4,6,8,10,12,14,16,18,20,22,24,26,28,30,32,34,36,38,40,42,44,46,48,50,52,54,56,58,60], "tickSize": {"condition": {"test": "datum.value % 4 === 0", "value": -8}, "value": -4}}},
                "y": {"field": "value", "type": "quantitative", "axis": {"orient": "right", "title": null, "labels": false, "values": [0,0.1,0.2,0.3,0.4,0.5,0.6,0.7,0.8,0.9,1,1.1,1.2,1.3,1.4,1.5,1.6,1.7,1.8,1.9,2], "tickSize": {"condition": {"test": "round(datum.value*10) % 2 === 0", "value": -8}, "value": -4}}}
              }
            }
          ],
          "resolve": {"axis": {"x": "independent", "y": "independent"}}
        }
      ]
    }
  ]
}
